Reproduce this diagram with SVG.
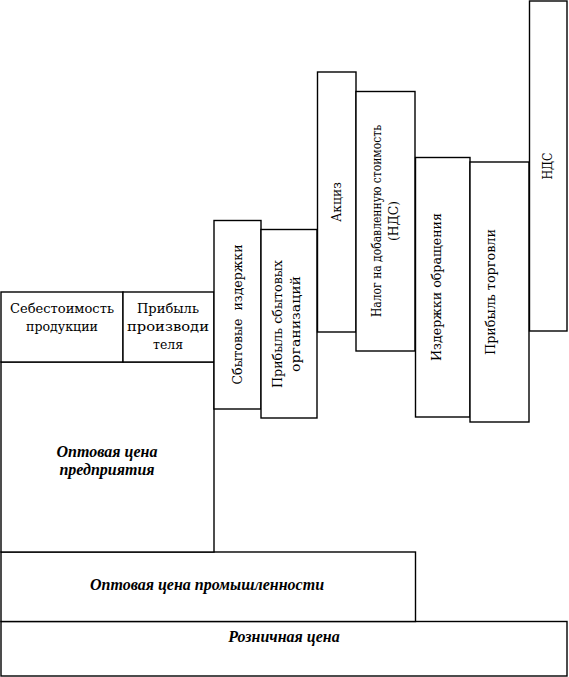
<svg xmlns="http://www.w3.org/2000/svg" width="569" height="677" viewBox="0 0 569 677">
<style>
rect{fill:#fff;stroke:#000;stroke-width:1.4}
text{font-family:'DejaVu Serif',serif;font-size:13px;fill:#000;text-anchor:middle}
.b{font-family:'Liberation Serif',serif;font-weight:bold;font-style:italic;font-size:16px}
</style>
<rect x="0" y="0" width="569" height="677" style="stroke:none"/>
<g id="retail"><rect x="1" y="621.5" width="566" height="54.5"/><text class="b" x="284" y="642">Розничная цена</text></g>
<g id="wholesale-industry"><rect x="1" y="552" width="414.5" height="69.5"/><text class="b" x="207" y="590">Оптовая цена промышленности</text></g>
<g id="wholesale-enterprise"><rect x="1" y="362" width="213" height="190"/><text class="b" x="107" y="457">Оптовая цена</text><text class="b" x="107" y="475">предприятия</text></g>
<g id="cost"><rect x="1" y="292" width="122" height="70"/><text x="62" y="313" textLength="104" lengthAdjust="spacingAndGlyphs">Себестоимость</text><text x="62" y="331" textLength="72" lengthAdjust="spacingAndGlyphs">продукции</text></g>
<g id="producer-profit"><rect x="123" y="292" width="91" height="70"/><text x="168" y="313" textLength="62" lengthAdjust="spacingAndGlyphs">Прибыль</text><text x="168" y="331" textLength="82" lengthAdjust="spacingAndGlyphs">производи</text><text x="168" y="349" textLength="30" lengthAdjust="spacingAndGlyphs">теля</text></g>
<g id="sales-costs"><rect x="214" y="220.5" width="47" height="188.5"/><text transform="translate(242,314.5) rotate(-90)" xml:space="preserve" textLength="140" lengthAdjust="spacingAndGlyphs">Сбытовые  издержки</text></g>
<g id="sales-profit"><rect x="261" y="229.5" width="56" height="188.5"/><text transform="translate(282,324) rotate(-90)" textLength="128" lengthAdjust="spacingAndGlyphs">Прибыль сбытовых</text><text transform="translate(300,324) rotate(-90)" textLength="96" lengthAdjust="spacingAndGlyphs">организаций</text></g>
<g id="excise"><rect x="317.5" y="72" width="38.5" height="260"/><text transform="translate(341,202) rotate(-90)" textLength="40" lengthAdjust="spacingAndGlyphs">Акциз</text></g>
<g id="vat"><rect x="356" y="91.5" width="59" height="259.5"/><text transform="translate(381,221) rotate(-90)" textLength="192" lengthAdjust="spacingAndGlyphs">Налог на добавленную стоимость</text><text transform="translate(398,221) rotate(-90)" textLength="40" lengthAdjust="spacingAndGlyphs">(НДС)</text></g>
<g id="circulation-costs"><rect x="415.5" y="157.5" width="54.5" height="259.5"/><text transform="translate(441,287) rotate(-90)" textLength="148" lengthAdjust="spacingAndGlyphs">Издержки обращения</text></g>
<g id="trade-profit"><rect x="470" y="162" width="59" height="260"/><text transform="translate(495,292) rotate(-90)" textLength="126" lengthAdjust="spacingAndGlyphs">Прибыль торговли</text></g>
<g id="vat2"><rect x="529.5" y="1" width="37.5" height="330"/><text transform="translate(552,166) rotate(-90)" textLength="27" lengthAdjust="spacingAndGlyphs">НДС</text></g>
<g id="connectors"></g>
</svg>
